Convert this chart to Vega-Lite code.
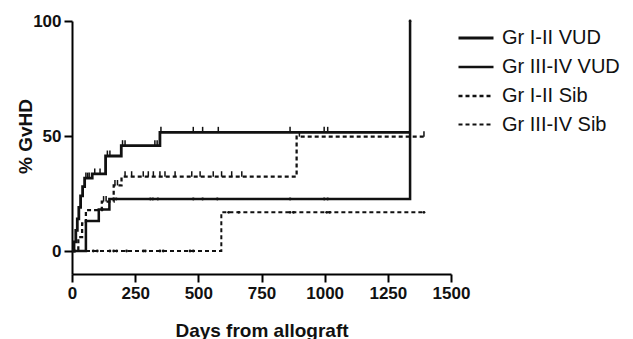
{
  "$schema": "https://vega.github.io/schema/vega-lite/v6.json",
  "width": 379,
  "height": 253,
  "autosize": {"type": "none"},
  "padding": {"left": 72, "top": 21, "right": 182, "bottom": 65},
  "background": "white",
  "config": {
    "view": {"stroke": null},
    "font": "Liberation Sans",
    "axis": {
      "domainColor": "black", "domainWidth": 2, "tickColor": "black", "tickWidth": 2, "tickSize": 8,
      "labelFont": "Liberation Sans", "labelFontWeight": "bold", "labelFontSize": 17, "labelColor": "#111",
      "titleFont": "Liberation Sans", "titleFontWeight": "bold", "titleFontSize": 19, "titleColor": "#111",
      "grid": false, "labelOverlap": false, "labelFlush": false
    },
    "legend": {"labelFont": "Liberation Sans", "labelFontSize": 20, "labelColor": "#111"}
  },
  "datasets": {
    "curves": [
      {"series": "Gr I-II VUD", "day": 0, "pct": 0},
      {"series": "Gr I-II VUD", "day": 8, "pct": 4},
      {"series": "Gr I-II VUD", "day": 15, "pct": 9},
      {"series": "Gr I-II VUD", "day": 21, "pct": 14},
      {"series": "Gr I-II VUD", "day": 27, "pct": 19},
      {"series": "Gr I-II VUD", "day": 34, "pct": 24},
      {"series": "Gr I-II VUD", "day": 42, "pct": 28},
      {"series": "Gr I-II VUD", "day": 50, "pct": 31.7},
      {"series": "Gr I-II VUD", "day": 80, "pct": 33.5},
      {"series": "Gr I-II VUD", "day": 133, "pct": 41.3},
      {"series": "Gr I-II VUD", "day": 195, "pct": 45.8},
      {"series": "Gr I-II VUD", "day": 348, "pct": 51.6},
      {"series": "Gr I-II VUD", "day": 1338, "pct": 51.6},
      {"series": "Gr III-IV VUD", "day": 0, "pct": 0},
      {"series": "Gr III-IV VUD", "day": 55, "pct": 13},
      {"series": "Gr III-IV VUD", "day": 106, "pct": 18},
      {"series": "Gr III-IV VUD", "day": 148, "pct": 22.6},
      {"series": "Gr III-IV VUD", "day": 1338, "pct": 100},
      {"series": "Gr I-II Sib", "day": 0, "pct": 0},
      {"series": "Gr I-II Sib", "day": 25, "pct": 6},
      {"series": "Gr I-II Sib", "day": 40, "pct": 12},
      {"series": "Gr I-II Sib", "day": 55, "pct": 17.8},
      {"series": "Gr I-II Sib", "day": 118, "pct": 21.5},
      {"series": "Gr I-II Sib", "day": 165, "pct": 28.5},
      {"series": "Gr I-II Sib", "day": 196, "pct": 32.3},
      {"series": "Gr I-II Sib", "day": 889, "pct": 49.7},
      {"series": "Gr I-II Sib", "day": 1393, "pct": 49.7},
      {"series": "Gr III-IV Sib", "day": 0, "pct": 0},
      {"series": "Gr III-IV Sib", "day": 591, "pct": 16.8},
      {"series": "Gr III-IV Sib", "day": 1393, "pct": 16.8}
    ],
    "ticks": [
      {"series": "Gr I-II VUD", "day": 55, "pct": 31.7},
      {"series": "Gr I-II VUD", "day": 62, "pct": 31.7},
      {"series": "Gr I-II VUD", "day": 68, "pct": 31.7},
      {"series": "Gr I-II VUD", "day": 90, "pct": 33.5},
      {"series": "Gr I-II VUD", "day": 111, "pct": 33.5},
      {"series": "Gr I-II VUD", "day": 140, "pct": 41.3},
      {"series": "Gr I-II VUD", "day": 150, "pct": 41.3},
      {"series": "Gr I-II VUD", "day": 200, "pct": 45.8},
      {"series": "Gr I-II VUD", "day": 210, "pct": 45.8},
      {"series": "Gr I-II VUD", "day": 328, "pct": 45.8},
      {"series": "Gr I-II VUD", "day": 337, "pct": 45.8},
      {"series": "Gr I-II VUD", "day": 352, "pct": 51.6},
      {"series": "Gr I-II VUD", "day": 480, "pct": 51.6},
      {"series": "Gr I-II VUD", "day": 517, "pct": 51.6},
      {"series": "Gr I-II VUD", "day": 579, "pct": 51.6},
      {"series": "Gr I-II VUD", "day": 863, "pct": 51.6},
      {"series": "Gr I-II VUD", "day": 998, "pct": 51.6},
      {"series": "Gr I-II VUD", "day": 1012, "pct": 51.6},
      {"series": "Gr I-II Sib", "day": 125, "pct": 21.5},
      {"series": "Gr I-II Sib", "day": 135, "pct": 21.5},
      {"series": "Gr I-II Sib", "day": 170, "pct": 28.5},
      {"series": "Gr I-II Sib", "day": 180, "pct": 28.5},
      {"series": "Gr I-II Sib", "day": 210, "pct": 32.3},
      {"series": "Gr I-II Sib", "day": 236, "pct": 32.3},
      {"series": "Gr I-II Sib", "day": 282, "pct": 32.3},
      {"series": "Gr I-II Sib", "day": 302, "pct": 32.3},
      {"series": "Gr I-II Sib", "day": 322, "pct": 32.3},
      {"series": "Gr I-II Sib", "day": 348, "pct": 32.3},
      {"series": "Gr I-II Sib", "day": 368, "pct": 32.3},
      {"series": "Gr I-II Sib", "day": 408, "pct": 32.3},
      {"series": "Gr I-II Sib", "day": 474, "pct": 32.3},
      {"series": "Gr I-II Sib", "day": 507, "pct": 32.3},
      {"series": "Gr I-II Sib", "day": 559, "pct": 32.3},
      {"series": "Gr I-II Sib", "day": 592, "pct": 32.3},
      {"series": "Gr I-II Sib", "day": 632, "pct": 32.3},
      {"series": "Gr I-II Sib", "day": 672, "pct": 32.3},
      {"series": "Gr I-II Sib", "day": 900, "pct": 49.7},
      {"series": "Gr I-II Sib", "day": 1393, "pct": 49.7}
    ],
    "dots": [
      {"series": "Gr III-IV VUD", "day": 120, "pct": 18},
      {"series": "Gr III-IV VUD", "day": 165, "pct": 22.6},
      {"series": "Gr III-IV VUD", "day": 175, "pct": 22.6},
      {"series": "Gr III-IV VUD", "day": 310, "pct": 22.6},
      {"series": "Gr III-IV VUD", "day": 320, "pct": 22.6},
      {"series": "Gr III-IV VUD", "day": 340, "pct": 22.6},
      {"series": "Gr III-IV VUD", "day": 480, "pct": 22.6},
      {"series": "Gr III-IV VUD", "day": 517, "pct": 22.6},
      {"series": "Gr III-IV VUD", "day": 575, "pct": 22.6},
      {"series": "Gr III-IV VUD", "day": 863, "pct": 22.6},
      {"series": "Gr III-IV VUD", "day": 998, "pct": 22.6},
      {"series": "Gr III-IV VUD", "day": 1012, "pct": 22.6},
      {"series": "Gr III-IV VUD", "day": 1338, "pct": 100},
      {"series": "Gr III-IV Sib", "day": 84, "pct": 0},
      {"series": "Gr III-IV Sib", "day": 100, "pct": 0},
      {"series": "Gr III-IV Sib", "day": 150, "pct": 0},
      {"series": "Gr III-IV Sib", "day": 165, "pct": 0},
      {"series": "Gr III-IV Sib", "day": 177, "pct": 0},
      {"series": "Gr III-IV Sib", "day": 216, "pct": 0},
      {"series": "Gr III-IV Sib", "day": 282, "pct": 0},
      {"series": "Gr III-IV Sib", "day": 290, "pct": 0},
      {"series": "Gr III-IV Sib", "day": 348, "pct": 0},
      {"series": "Gr III-IV Sib", "day": 361, "pct": 0},
      {"series": "Gr III-IV Sib", "day": 467, "pct": 0},
      {"series": "Gr III-IV Sib", "day": 480, "pct": 0},
      {"series": "Gr III-IV Sib", "day": 620, "pct": 16.8},
      {"series": "Gr III-IV Sib", "day": 660, "pct": 16.8},
      {"series": "Gr III-IV Sib", "day": 863, "pct": 16.8},
      {"series": "Gr III-IV Sib", "day": 877, "pct": 16.8},
      {"series": "Gr III-IV Sib", "day": 1008, "pct": 16.8},
      {"series": "Gr III-IV Sib", "day": 1020, "pct": 16.8},
      {"series": "Gr III-IV Sib", "day": 1393, "pct": 16.8}
    ]
  },
  "layer": [
    {
      "data": {"name": "curves"},
      "mark": {"type": "line", "interpolate": "step-after", "color": "#111", "strokeCap": "butt"},
      "encoding": {
        "x": {"field": "day", "type": "quantitative", "scale": {"domain": [0, 1500], "nice": false},
              "axis": {"values": [0, 250, 500, 750, 1000, 1250, 1500], "format": "d", "title": "Days from allograft", "labelPadding": 3, "titleY": 62, "titleBaseline": "alphabetic"}},
        "y": {"field": "pct", "type": "quantitative", "scale": {"domain": [-10, 100], "nice": false, "zero": false},
              "axis": {"values": [0, 50, 100], "format": "d", "title": "% GvHD", "labelPadding": 3, "titleX": -47, "titleY": 115, "titleAngle": -90, "titleBaseline": "middle", "titleAlign": "center"}},
        "strokeDash": {"field": "series", "type": "nominal",
                       "scale": {"domain": ["Gr I-II VUD", "Gr III-IV VUD", "Gr I-II Sib", "Gr III-IV Sib"], "range": [[1, 0], [1, 0], [4, 3], [4, 3]]},
                       "legend": {"title": null, "orient": "none", "legendX": 385, "legendY": -2, "symbolType": "stroke", "symbolSize": 1225, "labelOffset": 7, "rowPadding": 0, "symbolStrokeColor": "#111"}},
        "strokeWidth": {"field": "series", "type": "nominal",
                        "scale": {"domain": ["Gr I-II VUD", "Gr III-IV VUD", "Gr I-II Sib", "Gr III-IV Sib"], "range": [2.8, 2, 1.8, 1.8]},
                        "legend": {"title": null, "orient": "none", "legendX": 385, "legendY": -2, "symbolType": "stroke", "symbolSize": 1225, "labelOffset": 7, "rowPadding": 0, "symbolStrokeColor": "#111"}}
      }
    },
    {
      "data": {"name": "ticks"},
      "mark": {"type": "point", "shape": "M0,0V-1", "size": 120, "filled": false, "stroke": "#111", "strokeWidth": 1.5, "opacity": 1},
      "encoding": {
        "x": {"field": "day", "type": "quantitative"},
        "y": {"field": "pct", "type": "quantitative"}
      }
    },
    {
      "data": {"name": "dots"},
      "mark": {"type": "point", "shape": "circle", "size": 8, "filled": true, "color": "#111", "opacity": 1},
      "encoding": {
        "x": {"field": "day", "type": "quantitative"},
        "y": {"field": "pct", "type": "quantitative"}
      }
    }
  ]
}
